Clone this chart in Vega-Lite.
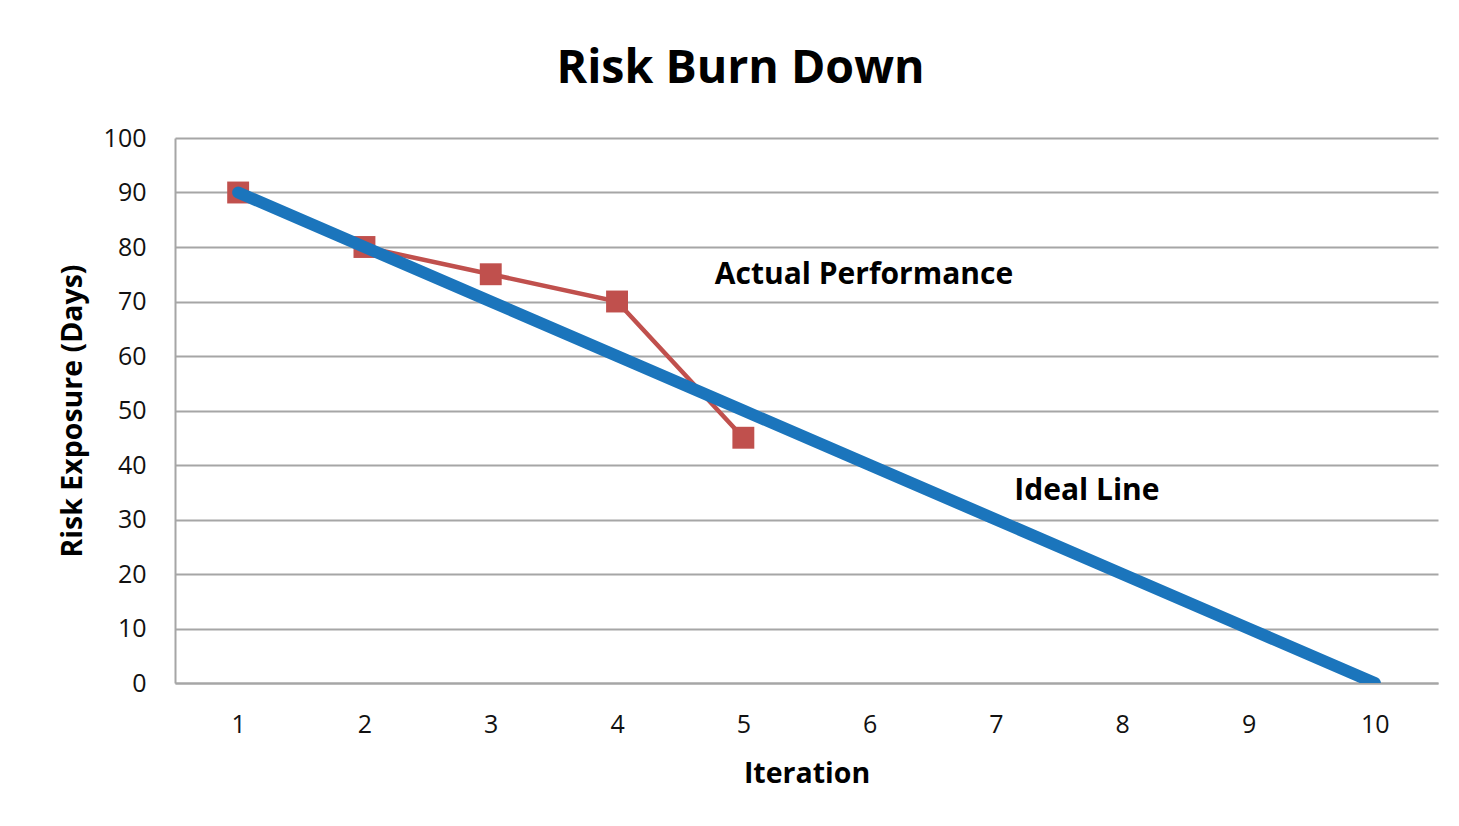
{
  "$schema": "https://vega.github.io/schema/vega-lite/v6.json",
  "width": 1263,
  "height": 545,
  "autosize": {"type": "none"},
  "padding": {"left": 175, "top": 138, "right": 21, "bottom": 143},
  "background": "white",
  "title": {
    "text": "Risk Burn Down",
    "font": "Open Sans",
    "fontSize": 46.5,
    "fontWeight": "bold",
    "color": "#000000",
    "anchor": "middle",
    "dx": -66,
    "offset": 34
  },
  "config": {
    "view": {"stroke": null},
    "font": "Open Sans"
  },
  "datasets": {
    "series": [
      {"iteration": 1, "value": 90, "series": "Ideal Line"},
      {"iteration": 2, "value": 80, "series": "Ideal Line"},
      {"iteration": 3, "value": 70, "series": "Ideal Line"},
      {"iteration": 4, "value": 60, "series": "Ideal Line"},
      {"iteration": 5, "value": 50, "series": "Ideal Line"},
      {"iteration": 6, "value": 40, "series": "Ideal Line"},
      {"iteration": 7, "value": 30, "series": "Ideal Line"},
      {"iteration": 8, "value": 20, "series": "Ideal Line"},
      {"iteration": 9, "value": 10, "series": "Ideal Line"},
      {"iteration": 10, "value": 0, "series": "Ideal Line"},
      {"iteration": 1, "value": 90, "series": "Actual Performance"},
      {"iteration": 2, "value": 80, "series": "Actual Performance"},
      {"iteration": 3, "value": 75, "series": "Actual Performance"},
      {"iteration": 4, "value": 70, "series": "Actual Performance"},
      {"iteration": 5, "value": 45, "series": "Actual Performance"}
    ],
    "labels": [
      {"iteration": 5.955, "value": 74.8, "label": "Actual Performance"},
      {"iteration": 7.72, "value": 35.2, "label": "Ideal Line"}
    ]
  },
  "encoding": {
    "x": {
      "field": "iteration",
      "type": "quantitative",
      "scale": {"domain": [0.5, 10.5], "nice": false, "zero": false},
      "axis": {
        "title": "Iteration",
        "values": [1, 2, 3, 4, 5, 6, 7, 8, 9, 10],
        "grid": false,
        "ticks": false,
        "domainColor": "#a6a6a6",
        "domainWidth": 2,
        "labelFont": "Open Sans",
        "labelFontSize": 25,
        "labelColor": "#111111",
        "labelPadding": 29,
        "titleFont": "Open Sans",
        "titleFontSize": 28.5,
        "titleFontWeight": "bold",
        "titleColor": "#000000",
        "titlePadding": 22
      }
    },
    "y": {
      "field": "value",
      "type": "quantitative",
      "scale": {"domain": [0, 100], "nice": false},
      "axis": {
        "title": "Risk Exposure (Days)",
        "values": [0, 10, 20, 30, 40, 50, 60, 70, 80, 90, 100],
        "grid": true,
        "gridColor": "#a6a6a6",
        "gridWidth": 2,
        "ticks": false,
        "domainColor": "#a6a6a6",
        "domainWidth": 2,
        "labelFont": "Open Sans",
        "labelFontSize": 25,
        "labelColor": "#111111",
        "labelPadding": 29,
        "titleFont": "Open Sans",
        "titleFontSize": 28.5,
        "titleFontWeight": "bold",
        "titleColor": "#000000",
        "titlePadding": 16
      }
    }
  },
  "layer": [
    {
      "data": {"name": "series"},
      "transform": [{"filter": "datum.series === 'Actual Performance'"}],
      "mark": {"type": "line", "color": "#c0504d", "strokeWidth": 4.5}
    },
    {
      "data": {"name": "series"},
      "transform": [{"filter": "datum.series === 'Actual Performance'"}],
      "mark": {"type": "point", "shape": "square", "filled": true, "color": "#c0504d", "size": 480, "opacity": 1}
    },
    {
      "data": {"name": "series"},
      "transform": [{"filter": "datum.series === 'Ideal Line'"}],
      "mark": {"type": "line", "color": "#1b75bc", "strokeWidth": 12, "strokeCap": "round", "clip": true}
    },
    {
      "data": {"name": "labels"},
      "mark": {"type": "text", "font": "Open Sans", "fontSize": 30, "fontWeight": "bold", "color": "#000000", "align": "center", "baseline": "middle"},
      "encoding": {"text": {"field": "label"}}
    }
  ]
}
